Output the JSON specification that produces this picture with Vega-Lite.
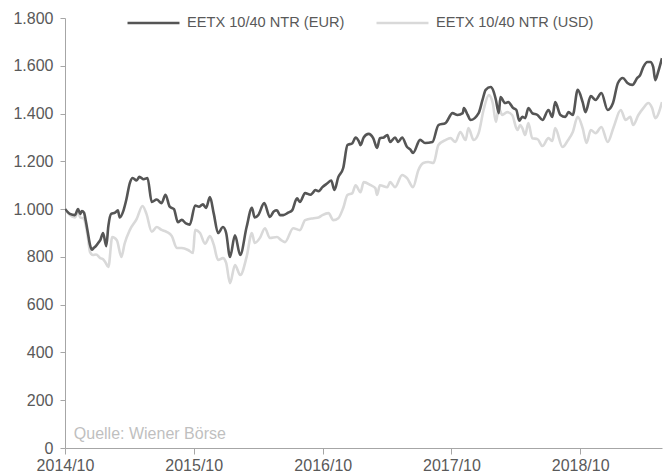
{
  "$schema": "https://vega.github.io/schema/vega-lite/v6.json",
  "autosize": {"type": "none"},
  "padding": {"left": 65, "top": 18, "right": 7, "bottom": 28},
  "width": 597,
  "height": 430,
  "background": "white",
  "config": {
    "view": {"stroke": null},
    "font": "Liberation Sans"
  },
  "layer": [
    {
      "data": {
        "values": [
          {"d":"2014-10-01","s":"EETX 10/40 NTR (USD)","v":1000},
          {"d":"2014-10-15","s":"EETX 10/40 NTR (USD)","v":975},
          {"d":"2014-10-29","s":"EETX 10/40 NTR (USD)","v":965},
          {"d":"2014-11-07","s":"EETX 10/40 NTR (USD)","v":990},
          {"d":"2014-11-13","s":"EETX 10/40 NTR (USD)","v":965},
          {"d":"2014-11-24","s":"EETX 10/40 NTR (USD)","v":960},
          {"d":"2014-11-29","s":"EETX 10/40 NTR (USD)","v":930},
          {"d":"2014-12-05","s":"EETX 10/40 NTR (USD)","v":880},
          {"d":"2014-12-11","s":"EETX 10/40 NTR (USD)","v":820},
          {"d":"2014-12-19","s":"EETX 10/40 NTR (USD)","v":808},
          {"d":"2014-12-28","s":"EETX 10/40 NTR (USD)","v":810},
          {"d":"2015-01-09","s":"EETX 10/40 NTR (USD)","v":795},
          {"d":"2015-01-17","s":"EETX 10/40 NTR (USD)","v":790},
          {"d":"2015-01-23","s":"EETX 10/40 NTR (USD)","v":779},
          {"d":"2015-02-01","s":"EETX 10/40 NTR (USD)","v":758},
          {"d":"2015-02-12","s":"EETX 10/40 NTR (USD)","v":883},
          {"d":"2015-02-25","s":"EETX 10/40 NTR (USD)","v":870},
          {"d":"2015-03-10","s":"EETX 10/40 NTR (USD)","v":800},
          {"d":"2015-03-19","s":"EETX 10/40 NTR (USD)","v":855},
          {"d":"2015-04-03","s":"EETX 10/40 NTR (USD)","v":913},
          {"d":"2015-04-22","s":"EETX 10/40 NTR (USD)","v":958},
          {"d":"2015-05-09","s":"EETX 10/40 NTR (USD)","v":1013},
          {"d":"2015-05-20","s":"EETX 10/40 NTR (USD)","v":980},
          {"d":"2015-06-04","s":"EETX 10/40 NTR (USD)","v":905},
          {"d":"2015-06-18","s":"EETX 10/40 NTR (USD)","v":925},
          {"d":"2015-07-02","s":"EETX 10/40 NTR (USD)","v":913},
          {"d":"2015-07-16","s":"EETX 10/40 NTR (USD)","v":905},
          {"d":"2015-07-31","s":"EETX 10/40 NTR (USD)","v":887},
          {"d":"2015-08-14","s":"EETX 10/40 NTR (USD)","v":837},
          {"d":"2015-08-28","s":"EETX 10/40 NTR (USD)","v":837},
          {"d":"2015-09-15","s":"EETX 10/40 NTR (USD)","v":829},
          {"d":"2015-09-29","s":"EETX 10/40 NTR (USD)","v":816},
          {"d":"2015-10-05","s":"EETX 10/40 NTR (USD)","v":913},
          {"d":"2015-10-19","s":"EETX 10/40 NTR (USD)","v":900},
          {"d":"2015-11-02","s":"EETX 10/40 NTR (USD)","v":855},
          {"d":"2015-11-16","s":"EETX 10/40 NTR (USD)","v":887},
          {"d":"2015-11-27","s":"EETX 10/40 NTR (USD)","v":850},
          {"d":"2015-12-09","s":"EETX 10/40 NTR (USD)","v":787},
          {"d":"2015-12-23","s":"EETX 10/40 NTR (USD)","v":795},
          {"d":"2016-01-01","s":"EETX 10/40 NTR (USD)","v":775},
          {"d":"2016-01-12","s":"EETX 10/40 NTR (USD)","v":690},
          {"d":"2016-01-26","s":"EETX 10/40 NTR (USD)","v":766},
          {"d":"2016-02-10","s":"EETX 10/40 NTR (USD)","v":724},
          {"d":"2016-02-28","s":"EETX 10/40 NTR (USD)","v":800},
          {"d":"2016-03-14","s":"EETX 10/40 NTR (USD)","v":900},
          {"d":"2016-03-22","s":"EETX 10/40 NTR (USD)","v":858},
          {"d":"2016-04-06","s":"EETX 10/40 NTR (USD)","v":880},
          {"d":"2016-04-20","s":"EETX 10/40 NTR (USD)","v":920},
          {"d":"2016-05-04","s":"EETX 10/40 NTR (USD)","v":879},
          {"d":"2016-05-24","s":"EETX 10/40 NTR (USD)","v":883},
          {"d":"2016-06-05","s":"EETX 10/40 NTR (USD)","v":870},
          {"d":"2016-06-16","s":"EETX 10/40 NTR (USD)","v":862},
          {"d":"2016-07-09","s":"EETX 10/40 NTR (USD)","v":920},
          {"d":"2016-07-28","s":"EETX 10/40 NTR (USD)","v":912},
          {"d":"2016-08-12","s":"EETX 10/40 NTR (USD)","v":954},
          {"d":"2016-09-05","s":"EETX 10/40 NTR (USD)","v":962},
          {"d":"2016-09-19","s":"EETX 10/40 NTR (USD)","v":965},
          {"d":"2016-09-30","s":"EETX 10/40 NTR (USD)","v":975},
          {"d":"2016-10-17","s":"EETX 10/40 NTR (USD)","v":983},
          {"d":"2016-10-31","s":"EETX 10/40 NTR (USD)","v":954},
          {"d":"2016-11-14","s":"EETX 10/40 NTR (USD)","v":962},
          {"d":"2016-11-28","s":"EETX 10/40 NTR (USD)","v":1005},
          {"d":"2016-12-10","s":"EETX 10/40 NTR (USD)","v":1059},
          {"d":"2016-12-24","s":"EETX 10/40 NTR (USD)","v":1067},
          {"d":"2017-01-02","s":"EETX 10/40 NTR (USD)","v":1100},
          {"d":"2017-01-16","s":"EETX 10/40 NTR (USD)","v":1071},
          {"d":"2017-01-25","s":"EETX 10/40 NTR (USD)","v":1113},
          {"d":"2017-02-14","s":"EETX 10/40 NTR (USD)","v":1100},
          {"d":"2017-02-27","s":"EETX 10/40 NTR (USD)","v":1088},
          {"d":"2017-03-04","s":"EETX 10/40 NTR (USD)","v":1059},
          {"d":"2017-03-12","s":"EETX 10/40 NTR (USD)","v":1100},
          {"d":"2017-04-02","s":"EETX 10/40 NTR (USD)","v":1092},
          {"d":"2017-04-10","s":"EETX 10/40 NTR (USD)","v":1113},
          {"d":"2017-04-24","s":"EETX 10/40 NTR (USD)","v":1092},
          {"d":"2017-05-14","s":"EETX 10/40 NTR (USD)","v":1143},
          {"d":"2017-05-28","s":"EETX 10/40 NTR (USD)","v":1130},
          {"d":"2017-06-14","s":"EETX 10/40 NTR (USD)","v":1092},
          {"d":"2017-06-29","s":"EETX 10/40 NTR (USD)","v":1163},
          {"d":"2017-07-13","s":"EETX 10/40 NTR (USD)","v":1193},
          {"d":"2017-07-27","s":"EETX 10/40 NTR (USD)","v":1197},
          {"d":"2017-08-11","s":"EETX 10/40 NTR (USD)","v":1193},
          {"d":"2017-08-25","s":"EETX 10/40 NTR (USD)","v":1268},
          {"d":"2017-09-14","s":"EETX 10/40 NTR (USD)","v":1289},
          {"d":"2017-09-28","s":"EETX 10/40 NTR (USD)","v":1297},
          {"d":"2017-10-12","s":"EETX 10/40 NTR (USD)","v":1281},
          {"d":"2017-10-26","s":"EETX 10/40 NTR (USD)","v":1323},
          {"d":"2017-11-10","s":"EETX 10/40 NTR (USD)","v":1289},
          {"d":"2017-11-18","s":"EETX 10/40 NTR (USD)","v":1339},
          {"d":"2017-12-03","s":"EETX 10/40 NTR (USD)","v":1289},
          {"d":"2017-12-17","s":"EETX 10/40 NTR (USD)","v":1318},
          {"d":"2017-12-31","s":"EETX 10/40 NTR (USD)","v":1415},
          {"d":"2018-01-15","s":"EETX 10/40 NTR (USD)","v":1477},
          {"d":"2018-01-26","s":"EETX 10/40 NTR (USD)","v":1444},
          {"d":"2018-02-04","s":"EETX 10/40 NTR (USD)","v":1365},
          {"d":"2018-02-12","s":"EETX 10/40 NTR (USD)","v":1423},
          {"d":"2018-02-22","s":"EETX 10/40 NTR (USD)","v":1394},
          {"d":"2018-03-08","s":"EETX 10/40 NTR (USD)","v":1406},
          {"d":"2018-03-22","s":"EETX 10/40 NTR (USD)","v":1394},
          {"d":"2018-04-06","s":"EETX 10/40 NTR (USD)","v":1331},
          {"d":"2018-04-14","s":"EETX 10/40 NTR (USD)","v":1352},
          {"d":"2018-04-20","s":"EETX 10/40 NTR (USD)","v":1339},
          {"d":"2018-04-28","s":"EETX 10/40 NTR (USD)","v":1310},
          {"d":"2018-05-07","s":"EETX 10/40 NTR (USD)","v":1360},
          {"d":"2018-05-18","s":"EETX 10/40 NTR (USD)","v":1297},
          {"d":"2018-06-02","s":"EETX 10/40 NTR (USD)","v":1293},
          {"d":"2018-06-16","s":"EETX 10/40 NTR (USD)","v":1264},
          {"d":"2018-07-03","s":"EETX 10/40 NTR (USD)","v":1297},
          {"d":"2018-07-14","s":"EETX 10/40 NTR (USD)","v":1285},
          {"d":"2018-07-22","s":"EETX 10/40 NTR (USD)","v":1339},
          {"d":"2018-08-12","s":"EETX 10/40 NTR (USD)","v":1260},
          {"d":"2018-08-26","s":"EETX 10/40 NTR (USD)","v":1285},
          {"d":"2018-09-10","s":"EETX 10/40 NTR (USD)","v":1323},
          {"d":"2018-09-24","s":"EETX 10/40 NTR (USD)","v":1386},
          {"d":"2018-10-08","s":"EETX 10/40 NTR (USD)","v":1339},
          {"d":"2018-10-19","s":"EETX 10/40 NTR (USD)","v":1277},
          {"d":"2018-10-31","s":"EETX 10/40 NTR (USD)","v":1331},
          {"d":"2018-11-14","s":"EETX 10/40 NTR (USD)","v":1318},
          {"d":"2018-11-30","s":"EETX 10/40 NTR (USD)","v":1344},
          {"d":"2018-12-18","s":"EETX 10/40 NTR (USD)","v":1281},
          {"d":"2019-01-04","s":"EETX 10/40 NTR (USD)","v":1344},
          {"d":"2019-01-24","s":"EETX 10/40 NTR (USD)","v":1415},
          {"d":"2019-02-07","s":"EETX 10/40 NTR (USD)","v":1373},
          {"d":"2019-02-20","s":"EETX 10/40 NTR (USD)","v":1386},
          {"d":"2019-02-28","s":"EETX 10/40 NTR (USD)","v":1352},
          {"d":"2019-03-15","s":"EETX 10/40 NTR (USD)","v":1394},
          {"d":"2019-03-29","s":"EETX 10/40 NTR (USD)","v":1423},
          {"d":"2019-04-12","s":"EETX 10/40 NTR (USD)","v":1444},
          {"d":"2019-04-23","s":"EETX 10/40 NTR (USD)","v":1423},
          {"d":"2019-05-02","s":"EETX 10/40 NTR (USD)","v":1381},
          {"d":"2019-05-21","s":"EETX 10/40 NTR (USD)","v":1448},
          {"d":"2014-10-01","s":"EETX 10/40 NTR (EUR)","v":1000},
          {"d":"2014-10-15","s":"EETX 10/40 NTR (EUR)","v":980},
          {"d":"2014-10-29","s":"EETX 10/40 NTR (EUR)","v":975},
          {"d":"2014-11-07","s":"EETX 10/40 NTR (EUR)","v":1000},
          {"d":"2014-11-13","s":"EETX 10/40 NTR (EUR)","v":980},
          {"d":"2014-11-18","s":"EETX 10/40 NTR (EUR)","v":992},
          {"d":"2014-11-24","s":"EETX 10/40 NTR (EUR)","v":985},
          {"d":"2014-11-29","s":"EETX 10/40 NTR (EUR)","v":950},
          {"d":"2014-12-05","s":"EETX 10/40 NTR (EUR)","v":900},
          {"d":"2014-12-11","s":"EETX 10/40 NTR (EUR)","v":850},
          {"d":"2014-12-16","s":"EETX 10/40 NTR (EUR)","v":830},
          {"d":"2014-12-22","s":"EETX 10/40 NTR (EUR)","v":838},
          {"d":"2014-12-28","s":"EETX 10/40 NTR (EUR)","v":846},
          {"d":"2015-01-03","s":"EETX 10/40 NTR (EUR)","v":858},
          {"d":"2015-01-09","s":"EETX 10/40 NTR (EUR)","v":870},
          {"d":"2015-01-17","s":"EETX 10/40 NTR (EUR)","v":900},
          {"d":"2015-01-26","s":"EETX 10/40 NTR (EUR)","v":845},
          {"d":"2015-02-01","s":"EETX 10/40 NTR (EUR)","v":930},
          {"d":"2015-02-09","s":"EETX 10/40 NTR (EUR)","v":980},
          {"d":"2015-02-20","s":"EETX 10/40 NTR (EUR)","v":985},
          {"d":"2015-02-28","s":"EETX 10/40 NTR (EUR)","v":995},
          {"d":"2015-03-05","s":"EETX 10/40 NTR (EUR)","v":965},
          {"d":"2015-03-16","s":"EETX 10/40 NTR (EUR)","v":995},
          {"d":"2015-03-24","s":"EETX 10/40 NTR (EUR)","v":1040},
          {"d":"2015-04-03","s":"EETX 10/40 NTR (EUR)","v":1110},
          {"d":"2015-04-11","s":"EETX 10/40 NTR (EUR)","v":1130},
          {"d":"2015-04-22","s":"EETX 10/40 NTR (EUR)","v":1120},
          {"d":"2015-04-30","s":"EETX 10/40 NTR (EUR)","v":1135},
          {"d":"2015-05-12","s":"EETX 10/40 NTR (EUR)","v":1125},
          {"d":"2015-05-23","s":"EETX 10/40 NTR (EUR)","v":1130},
          {"d":"2015-06-04","s":"EETX 10/40 NTR (EUR)","v":1030},
          {"d":"2015-06-18","s":"EETX 10/40 NTR (EUR)","v":1040},
          {"d":"2015-07-02","s":"EETX 10/40 NTR (EUR)","v":1025},
          {"d":"2015-07-13","s":"EETX 10/40 NTR (EUR)","v":1060},
          {"d":"2015-07-25","s":"EETX 10/40 NTR (EUR)","v":1010},
          {"d":"2015-08-06","s":"EETX 10/40 NTR (EUR)","v":1000},
          {"d":"2015-08-17","s":"EETX 10/40 NTR (EUR)","v":945},
          {"d":"2015-08-28","s":"EETX 10/40 NTR (EUR)","v":955},
          {"d":"2015-09-09","s":"EETX 10/40 NTR (EUR)","v":940},
          {"d":"2015-09-20","s":"EETX 10/40 NTR (EUR)","v":935},
          {"d":"2015-10-05","s":"EETX 10/40 NTR (EUR)","v":1015},
          {"d":"2015-10-16","s":"EETX 10/40 NTR (EUR)","v":1010},
          {"d":"2015-10-27","s":"EETX 10/40 NTR (EUR)","v":1020},
          {"d":"2015-11-05","s":"EETX 10/40 NTR (EUR)","v":1005},
          {"d":"2015-11-16","s":"EETX 10/40 NTR (EUR)","v":1050},
          {"d":"2015-11-27","s":"EETX 10/40 NTR (EUR)","v":980},
          {"d":"2015-12-09","s":"EETX 10/40 NTR (EUR)","v":900},
          {"d":"2015-12-23","s":"EETX 10/40 NTR (EUR)","v":925},
          {"d":"2016-01-01","s":"EETX 10/40 NTR (EUR)","v":900},
          {"d":"2016-01-12","s":"EETX 10/40 NTR (EUR)","v":800},
          {"d":"2016-01-26","s":"EETX 10/40 NTR (EUR)","v":890},
          {"d":"2016-02-10","s":"EETX 10/40 NTR (EUR)","v":808},
          {"d":"2016-02-28","s":"EETX 10/40 NTR (EUR)","v":925},
          {"d":"2016-03-14","s":"EETX 10/40 NTR (EUR)","v":1005},
          {"d":"2016-03-22","s":"EETX 10/40 NTR (EUR)","v":965},
          {"d":"2016-04-01","s":"EETX 10/40 NTR (EUR)","v":975},
          {"d":"2016-04-18","s":"EETX 10/40 NTR (EUR)","v":1025},
          {"d":"2016-05-04","s":"EETX 10/40 NTR (EUR)","v":967},
          {"d":"2016-05-15","s":"EETX 10/40 NTR (EUR)","v":990},
          {"d":"2016-05-24","s":"EETX 10/40 NTR (EUR)","v":995},
          {"d":"2016-06-02","s":"EETX 10/40 NTR (EUR)","v":975},
          {"d":"2016-06-11","s":"EETX 10/40 NTR (EUR)","v":975},
          {"d":"2016-06-25","s":"EETX 10/40 NTR (EUR)","v":985},
          {"d":"2016-07-06","s":"EETX 10/40 NTR (EUR)","v":995},
          {"d":"2016-07-20","s":"EETX 10/40 NTR (EUR)","v":1045},
          {"d":"2016-07-28","s":"EETX 10/40 NTR (EUR)","v":1030},
          {"d":"2016-08-12","s":"EETX 10/40 NTR (EUR)","v":1067},
          {"d":"2016-08-27","s":"EETX 10/40 NTR (EUR)","v":1060},
          {"d":"2016-09-02","s":"EETX 10/40 NTR (EUR)","v":1067},
          {"d":"2016-09-10","s":"EETX 10/40 NTR (EUR)","v":1080},
          {"d":"2016-09-19","s":"EETX 10/40 NTR (EUR)","v":1075},
          {"d":"2016-09-30","s":"EETX 10/40 NTR (EUR)","v":1092},
          {"d":"2016-10-14","s":"EETX 10/40 NTR (EUR)","v":1108},
          {"d":"2016-10-25","s":"EETX 10/40 NTR (EUR)","v":1120},
          {"d":"2016-11-03","s":"EETX 10/40 NTR (EUR)","v":1080},
          {"d":"2016-11-14","s":"EETX 10/40 NTR (EUR)","v":1134},
          {"d":"2016-11-28","s":"EETX 10/40 NTR (EUR)","v":1172},
          {"d":"2016-12-10","s":"EETX 10/40 NTR (EUR)","v":1268},
          {"d":"2016-12-24","s":"EETX 10/40 NTR (EUR)","v":1276},
          {"d":"2017-01-02","s":"EETX 10/40 NTR (EUR)","v":1300},
          {"d":"2017-01-11","s":"EETX 10/40 NTR (EUR)","v":1285},
          {"d":"2017-01-16","s":"EETX 10/40 NTR (EUR)","v":1268},
          {"d":"2017-01-25","s":"EETX 10/40 NTR (EUR)","v":1300},
          {"d":"2017-02-08","s":"EETX 10/40 NTR (EUR)","v":1315},
          {"d":"2017-02-21","s":"EETX 10/40 NTR (EUR)","v":1297},
          {"d":"2017-03-04","s":"EETX 10/40 NTR (EUR)","v":1256},
          {"d":"2017-03-12","s":"EETX 10/40 NTR (EUR)","v":1297},
          {"d":"2017-03-23","s":"EETX 10/40 NTR (EUR)","v":1300},
          {"d":"2017-04-02","s":"EETX 10/40 NTR (EUR)","v":1310},
          {"d":"2017-04-10","s":"EETX 10/40 NTR (EUR)","v":1281},
          {"d":"2017-04-24","s":"EETX 10/40 NTR (EUR)","v":1300},
          {"d":"2017-05-03","s":"EETX 10/40 NTR (EUR)","v":1281},
          {"d":"2017-05-14","s":"EETX 10/40 NTR (EUR)","v":1300},
          {"d":"2017-05-28","s":"EETX 10/40 NTR (EUR)","v":1260},
          {"d":"2017-06-06","s":"EETX 10/40 NTR (EUR)","v":1250},
          {"d":"2017-06-14","s":"EETX 10/40 NTR (EUR)","v":1235},
          {"d":"2017-07-04","s":"EETX 10/40 NTR (EUR)","v":1290},
          {"d":"2017-07-18","s":"EETX 10/40 NTR (EUR)","v":1277},
          {"d":"2017-08-08","s":"EETX 10/40 NTR (EUR)","v":1281},
          {"d":"2017-08-25","s":"EETX 10/40 NTR (EUR)","v":1352},
          {"d":"2017-09-14","s":"EETX 10/40 NTR (EUR)","v":1360},
          {"d":"2017-10-04","s":"EETX 10/40 NTR (EUR)","v":1402},
          {"d":"2017-10-18","s":"EETX 10/40 NTR (EUR)","v":1394},
          {"d":"2017-11-02","s":"EETX 10/40 NTR (EUR)","v":1402},
          {"d":"2017-11-05","s":"EETX 10/40 NTR (EUR)","v":1423},
          {"d":"2017-11-16","s":"EETX 10/40 NTR (EUR)","v":1394},
          {"d":"2017-11-24","s":"EETX 10/40 NTR (EUR)","v":1373},
          {"d":"2017-12-17","s":"EETX 10/40 NTR (EUR)","v":1402},
          {"d":"2017-12-28","s":"EETX 10/40 NTR (EUR)","v":1457},
          {"d":"2018-01-06","s":"EETX 10/40 NTR (EUR)","v":1499},
          {"d":"2018-01-20","s":"EETX 10/40 NTR (EUR)","v":1511},
          {"d":"2018-01-29","s":"EETX 10/40 NTR (EUR)","v":1490},
          {"d":"2018-02-04","s":"EETX 10/40 NTR (EUR)","v":1457},
          {"d":"2018-02-12","s":"EETX 10/40 NTR (EUR)","v":1402},
          {"d":"2018-02-17","s":"EETX 10/40 NTR (EUR)","v":1469},
          {"d":"2018-03-02","s":"EETX 10/40 NTR (EUR)","v":1444},
          {"d":"2018-03-11","s":"EETX 10/40 NTR (EUR)","v":1448},
          {"d":"2018-03-25","s":"EETX 10/40 NTR (EUR)","v":1423},
          {"d":"2018-04-03","s":"EETX 10/40 NTR (EUR)","v":1415},
          {"d":"2018-04-11","s":"EETX 10/40 NTR (EUR)","v":1370},
          {"d":"2018-04-20","s":"EETX 10/40 NTR (EUR)","v":1386},
          {"d":"2018-04-28","s":"EETX 10/40 NTR (EUR)","v":1381},
          {"d":"2018-05-07","s":"EETX 10/40 NTR (EUR)","v":1423},
          {"d":"2018-05-18","s":"EETX 10/40 NTR (EUR)","v":1402},
          {"d":"2018-06-02","s":"EETX 10/40 NTR (EUR)","v":1394},
          {"d":"2018-06-16","s":"EETX 10/40 NTR (EUR)","v":1373},
          {"d":"2018-07-03","s":"EETX 10/40 NTR (EUR)","v":1415},
          {"d":"2018-07-14","s":"EETX 10/40 NTR (EUR)","v":1386},
          {"d":"2018-07-22","s":"EETX 10/40 NTR (EUR)","v":1448},
          {"d":"2018-08-06","s":"EETX 10/40 NTR (EUR)","v":1394},
          {"d":"2018-08-20","s":"EETX 10/40 NTR (EUR)","v":1386},
          {"d":"2018-08-29","s":"EETX 10/40 NTR (EUR)","v":1406},
          {"d":"2018-09-10","s":"EETX 10/40 NTR (EUR)","v":1394},
          {"d":"2018-09-24","s":"EETX 10/40 NTR (EUR)","v":1499},
          {"d":"2018-10-08","s":"EETX 10/40 NTR (EUR)","v":1448},
          {"d":"2018-10-16","s":"EETX 10/40 NTR (EUR)","v":1406},
          {"d":"2018-10-31","s":"EETX 10/40 NTR (EUR)","v":1473},
          {"d":"2018-11-14","s":"EETX 10/40 NTR (EUR)","v":1457},
          {"d":"2018-11-30","s":"EETX 10/40 NTR (EUR)","v":1486},
          {"d":"2018-12-18","s":"EETX 10/40 NTR (EUR)","v":1415},
          {"d":"2019-01-02","s":"EETX 10/40 NTR (EUR)","v":1444},
          {"d":"2019-01-16","s":"EETX 10/40 NTR (EUR)","v":1528},
          {"d":"2019-01-30","s":"EETX 10/40 NTR (EUR)","v":1549},
          {"d":"2019-02-12","s":"EETX 10/40 NTR (EUR)","v":1528},
          {"d":"2019-02-26","s":"EETX 10/40 NTR (EUR)","v":1520},
          {"d":"2019-03-12","s":"EETX 10/40 NTR (EUR)","v":1549},
          {"d":"2019-03-20","s":"EETX 10/40 NTR (EUR)","v":1561},
          {"d":"2019-03-29","s":"EETX 10/40 NTR (EUR)","v":1595},
          {"d":"2019-04-10","s":"EETX 10/40 NTR (EUR)","v":1616},
          {"d":"2019-04-18","s":"EETX 10/40 NTR (EUR)","v":1616},
          {"d":"2019-04-26","s":"EETX 10/40 NTR (EUR)","v":1595},
          {"d":"2019-05-02","s":"EETX 10/40 NTR (EUR)","v":1540},
          {"d":"2019-05-10","s":"EETX 10/40 NTR (EUR)","v":1574},
          {"d":"2019-05-21","s":"EETX 10/40 NTR (EUR)","v":1632}
        ]
      },
      "mark": {"type": "line", "strokeWidth": 2.6, "interpolate": "monotone", "clip": true},
      "encoding": {
        "x": {
          "field": "d",
          "type": "temporal",
          "scale": {
            "type": "utc",
            "domain": [
              {"year": 2014, "month": 10, "date": 1, "utc": true},
              {"year": 2019, "month": 5, "date": 21, "utc": true}
            ]
          },
          "axis": {
            "title": null,
            "values": [
              {"year": 2014, "month": 10, "date": 1, "utc": true},
              {"year": 2015, "month": 10, "date": 1, "utc": true},
              {"year": 2016, "month": 10, "date": 1, "utc": true},
              {"year": 2017, "month": 10, "date": 1, "utc": true},
              {"year": 2018, "month": 10, "date": 1, "utc": true}
            ],
            "labelExpr": "utcFormat(datum.value, '%Y/%m')",
            "grid": false,
            "domainColor": "#a6a6a6",
            "tickColor": "#a6a6a6",
            "tickSize": 6,
            "labelFont": "Liberation Sans",
            "labelFontSize": 16,
            "labelColor": "#595959",
            "labelPadding": 3,
            "labelFlush": false,
            "labelOverlap": false
          }
        },
        "y": {
          "field": "v",
          "type": "quantitative",
          "scale": {"domain": [0, 1800], "nice": false},
          "axis": {
            "title": null,
            "values": [0, 200, 400, 600, 800, 1000, 1200, 1400, 1600, 1800],
            "labelExpr": "replace(format(datum.value, ','), ',', '.')",
            "grid": false,
            "domainColor": "#a6a6a6",
            "tickColor": "#a6a6a6",
            "tickSize": 5,
            "labelFont": "Liberation Sans",
            "labelFontSize": 16,
            "labelColor": "#595959",
            "labelPadding": 7,
            "labelFlush": false,
            "labelOverlap": false
          }
        },
        "color": {
          "field": "s",
          "type": "nominal",
          "scale": {
            "domain": ["EETX 10/40 NTR (EUR)", "EETX 10/40 NTR (USD)"],
            "range": ["#555555", "#d9d9d9"]
          },
          "legend": {
            "title": null,
            "orient": "none",
            "direction": "horizontal",
            "legendX": 61,
            "legendY": -23,
            "padding": 0,
            "symbolType": "stroke",
            "symbolSize": 2700,
            "symbolStrokeWidth": 2.6,
            "labelFont": "Liberation Sans",
            "labelFontSize": 14.6,
            "labelColor": "#595959",
            "labelOffset": 6,
            "labelLimit": 400,
            "columnPadding": 26
          }
        }
      }
    },
    {
      "data": {"values": [{"d": "2014-10-26", "v": 38, "t": "Quelle: Wiener Börse"}]},
      "mark": {"type": "text", "align": "left", "baseline": "alphabetic", "font": "Liberation Sans", "fontSize": 16, "color": "#bfbfbf"},
      "encoding": {
        "x": {"field": "d", "type": "temporal"},
        "y": {"field": "v", "type": "quantitative"},
        "text": {"field": "t"}
      }
    }
  ]
}
